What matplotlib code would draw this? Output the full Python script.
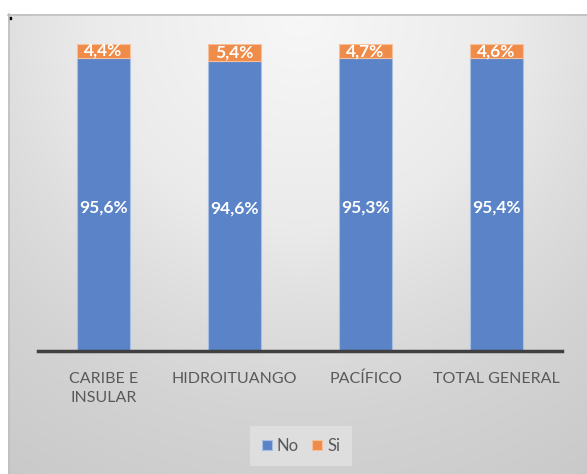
import numpy as np
import matplotlib
matplotlib.use("Agg")
import matplotlib.pyplot as plt

categories = ["CARIBE E\nINSULAR", "HIDROITUANGO", "PACÍFICO", "TOTAL GENERAL"]
no_vals = [95.6, 94.6, 95.3, 95.4]
si_vals = [4.4, 5.4, 4.7, 4.6]

BLUE = "#5A83C8"
ORANGE = "#EF8C4A"
TEXT = "#595959"

plt.rcParams["font.family"] = ["Lato", "DejaVu Sans"]

W, H = 587, 474
fig = plt.figure(figsize=(W / 100, H / 100), dpi=100)
fig.patch.set_facecolor("white")

# gradient background of the chart area (pixel coords, y from top)
bg = fig.add_axes([8 / W, 0, 1 - 8 / W, (H - 14) / H], zorder=0)
xs = np.arange(8, W)
ys = np.arange(14, H)
X, Y = np.meshgrid(xs, ys)
d = np.hypot(X - 300, Y - 14)
v = np.interp(d, [0, 211, 308, 400, 544, 700], [0.97, 0.92, 0.87, 0.83, 0.79, 0.76])
img = np.dstack([v, v, v])
bg.imshow(img, extent=(8, W, H, 14), aspect="auto", interpolation="bilinear")
bg.set_xlim(8, W)
bg.set_ylim(H, 14)
bg.axis("off")
fig.add_artist(plt.Line2D([8 / W, 1], [1 - 14.5 / H, 1 - 14.5 / H], color="#BFBFBF", lw=1.2))
fig.add_artist(plt.Line2D([8.5 / W, 8.5 / W], [0, 1 - 14 / H], color="#BFBFBF", lw=1.2))
fig.add_artist(plt.Rectangle((9 / W, 1 - 19 / H), 2 / W, 2 / H, color="black"))

ax = fig.add_axes([38 / W, 123 / H, 524 / W, 307 / H], zorder=1)
ax.patch.set_alpha(0)
x = np.arange(len(categories))
b1 = ax.bar(x, no_vals, width=0.4, color=BLUE, edgecolor="#A9BEE3", linewidth=0.8, label="No")
b2 = ax.bar(x, si_vals, width=0.4, bottom=no_vals, color=ORANGE, edgecolor="#F5C09A",
            linewidth=0.8, label="Si")

for i in range(len(categories)):
    ax.text(x[i], no_vals[i] / 2 - 1, f"{no_vals[i]:.1f}%".replace(".", ","), ha="center",
            va="center", color="white", fontsize=12.5, fontweight="bold")
    ax.text(x[i], no_vals[i] + si_vals[i] / 2, f"{si_vals[i]:.1f}%".replace(".", ","),
            ha="center", va="center", color="white", fontsize=12.5, fontweight="bold")

ax.set_xlim(-0.5, len(categories) - 0.5)
ax.set_ylim(0, 100)
ax.set_xticks(x)
ax.set_xticklabels(categories, fontsize=11.5, color=TEXT, linespacing=1.45)
ax.tick_params(axis="x", length=0, pad=15)
ax.set_yticks([])
for s in ["top", "right", "left"]:
    ax.spines[s].set_visible(False)
ax.spines["bottom"].set_color("#404040")
ax.spines["bottom"].set_linewidth(2.5)

leg = fig.legend(handles=[b1, b2], labels=["No", "Si"], loc="center",
                 bbox_to_anchor=(301 / W, 1 - 446 / H), ncol=2, frameon=True,
                 fontsize=12, handlelength=0.6, handleheight=0.6, handletextpad=0.3,
                 columnspacing=0.8, borderpad=0.7, fancybox=False)
leg.get_frame().set_facecolor("#E4E4E4")
leg.get_frame().set_alpha(0.7)
leg.get_frame().set_linewidth(0)
for t in leg.get_texts():
    t.set_color(TEXT)

fig.savefig("out.png", dpi=100)
